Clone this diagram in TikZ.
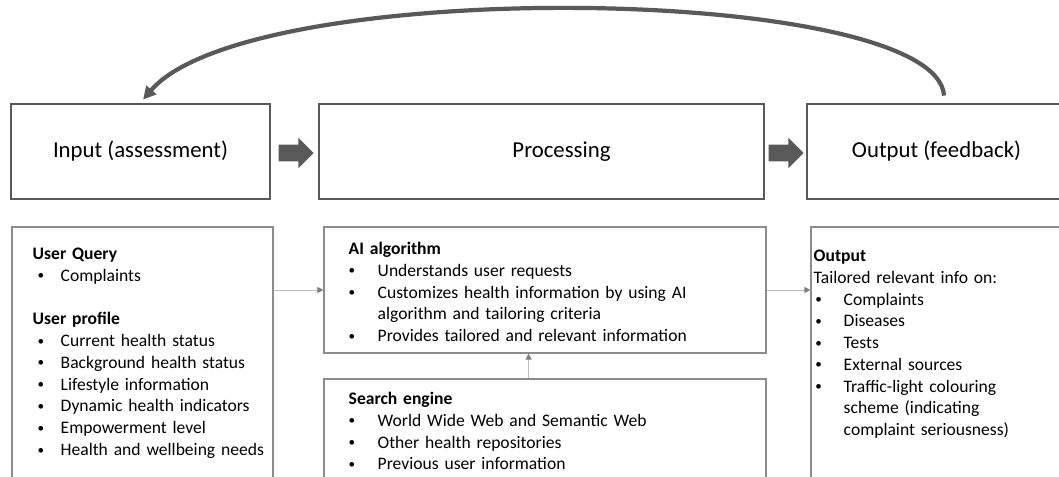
\documentclass[tikz,border=0pt]{standalone}
\usepackage{fontspec}
\setmainfont{Carlito}
\usetikzlibrary{arrows.meta,shapes.arrows}
\definecolor{darkline}{HTML}{595959}
\definecolor{boxline}{HTML}{8C8C8C}
\definecolor{linkline}{HTML}{BFBFBF}
\definecolor{linktip}{HTML}{7F7F7F}
\newlength{\bulind}
\newlength{\bulgap}
\newcommand{\bul}[1]{\par\noindent\hangindent=\bulgap\hangafter=1\makebox[\bulgap][l]{\hspace*{\bulind}\raisebox{0.08em}{\scalebox{0.75}{\textbullet}}}#1}
\tikzset{
  headbox/.style={
    draw = darkline,
    line width = 2pt,
    inner sep = 0pt,
    minimum height = 2.375cm,
    font = \fontsize{16.2}{19}\selectfont
  },
  blockarrow/.style={
    single arrow,
    fill = darkline,
    inner xsep = 0pt,
    inner ysep = 0.2cm,
    minimum height = 0.875cm,
    single arrow head extend = 0.175cm
  },
  infobox/.style={
    draw = boxline,
    line width = 0.8pt,
    inner sep = 0pt
  },
  infotext/.style={
    anchor = base west,
    inner sep = 0pt,
    align = left,
    text width = #1,
    font = \fontsize{12.5}{15.5}\selectfont
  },
  feedarrow/.style={
    draw = darkline,
    line width = 3pt,
    -{Triangle[length=0.32cm,width=0.32cm]}
  },
  linkarrow/.style={
    draw = linkline,
    line width = 0.7pt,
    -{Triangle[length=0.15cm,width=0.15cm,color=linktip]}
  }
}
\begin{document}
\begin{tikzpicture}
  \useasboundingbox (0,0) rectangle (26.475,-11.925);
  % stage headers
  \node[headbox, minimum width=6.475cm] (inhead) at (3.5125,-3.7875) {Input (assessment)};
  \node[headbox, minimum width=11.125cm] (prochead) at (13.5375,-3.7875) {\hspace*{1cm}Processing};
  \node[headbox, minimum width=6.475cm] (outhead) at (23.4125,-3.7875) {Output (feedback)};
  \node[blockarrow] (step1) at (7.3,-3.825) {};
  \node[blockarrow] (step2) at (19.55,-3.825) {};
  \draw[feedarrow, shorten <=0.175cm, shorten >=0.1cm]
    ([xshift=0.2cm]outhead.north) .. controls +(-0.2,2.95) and +(2.75,3.2) .. (inhead.north);

  % detail boxes
  \node[infobox, minimum width=6.525cm, minimum height=6.825cm] (qbox) at (3.5625,-9.0875) {};
  \node[infobox, minimum width=11.05cm, minimum height=3.15cm] (aibox) at (13.625,-7.25) {};
  \node[infobox, minimum width=11.05cm, minimum height=3.025cm] (sebox) at (13.625,-10.9875) {};
  \node[infobox, minimum width=6.475cm, minimum height=6.825cm] (fbbox) at (23.5125,-9.0875) {};

  \node[infotext=6cm] (qtext) at ([shift={(0.525,-0.825)}]qbox.north west) {%
    \setlength{\bulind}{0.125cm}\setlength{\bulgap}{0.7cm}%
    \textbf{User Query}
    \bul{Complaints}
    \par\vspace{\baselineskip}
    \noindent\textbf{User profile}
    \bul{Current health status}
    \bul{Background health status}
    \bul{Lifestyle information}
    \bul{Dynamic health indicators}
    \bul{Empowerment level}
    \bul{Health and wellbeing needs}\par};
  \node[infotext=10cm] (aitext) at ([shift={(0.625,-0.7)}]aibox.north west) {%
    \setlength{\bulind}{0cm}\setlength{\bulgap}{0.725cm}%
    \textbf{AI algorithm}
    \bul{Understands user requests}
    \bul{Customizes health information by using AI\newline algorithm and tailoring criteria}
    \bul{Provides tailored and relevant information}\par};
  \node[infotext=10cm] (setext) at ([shift={(0.625,-0.65)}]sebox.north west) {%
    \setlength{\bulind}{0cm}\setlength{\bulgap}{0.725cm}%
    \textbf{Search engine}
    \bul{World Wide Web and Semantic Web}
    \bul{Other health repositories}
    \bul{Previous user information}\par};
  \node[infotext=6cm] (fbtext) at ([shift={(0.075,-0.875)}]fbbox.north west) {%
    \setlength{\bulind}{0.04cm}\setlength{\bulgap}{0.75cm}%
    \textbf{Output}\par
    \noindent Tailored relevant info on:
    \bul{Complaints}
    \bul{Diseases}
    \bul{Tests}
    \bul{External sources}
    \bul{Traffic-light colouring\newline scheme (indicating\newline complaint seriousness)}\par};

  % links between the boxes
  \draw[linkarrow] (qbox.east |- aibox.west) -- (aibox.west);
  \draw[linkarrow] (aibox.east) -- (fbbox.west |- aibox.east);
  \draw[linkarrow] ([xshift=-0.41cm]sebox.north) -- ([xshift=-0.41cm]aibox.south);
\end{tikzpicture}
\end{document}
